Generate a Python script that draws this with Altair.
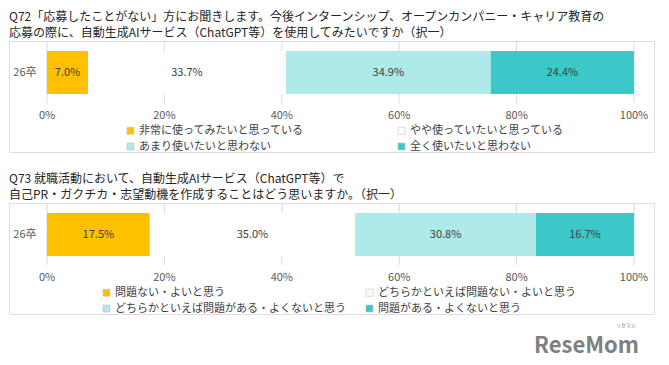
import altair as alt
import pandas as pd

FONT = "Noto Sans CJK JP"

rows = ["26卒"]
q72_cats = ["非常に使ってみたいと思っている", "やや使っていたいと思っている",
            "あまり使いたいと思わない", "全く使いたいと思わない"]
q72_vals = [7.0, 33.7, 34.9, 24.4]
q73_cats = ["問題ない・よいと思う", "どちらかといえば問題ない・よいと思う",
            "どちらかといえば問題がある・よくないと思う", "問題がある・よくないと思う"]
q73_vals = [17.5, 35.0, 30.8, 16.7]
colors = ["#FFC000", "#FFFFFF", "#AFEAEA", "#3CC8C8"]
ticks = [0, 20, 40, 60, 80, 100]
tick_labels = ["0%", "20%", "40%", "60%", "80%", "100%"]
q72_title = ["Q72「応募したことがない」方にお聞きします。今後インターンシップ、オープンカンパニー・キャリア教育の",
             "応募の際に、自動生成AIサービス（ChatGPT等）を使用してみたいですか（択一）"]
q73_title = ["Q73 就職活動において、自動生成AIサービス（ChatGPT等）で",
             "自己PR・ガクチカ・志望動機を作成することはどう思いますか。（択一）"]

W, H = 645, 111


def make_df(cats, vals):
    start, rows_out = 0.0, []
    for i, (c, v) in enumerate(zip(cats, vals)):
        rows_out.append({"row": rows[0], "cat": c, "order": i, "val": v,
                         "x0": start, "x1": start + v, "mid": start + v / 2,
                         "label": f"{v:.1f}%"})
        start += v
    return pd.DataFrame(rows_out)


tick_df = pd.DataFrame({"t": ticks, "lab": tick_labels})
x_scale = alt.Scale(domain=[0, 100], range=[38, 625], nice=False, zero=False)
y_scale = alt.Scale(range=[10, 53], paddingInner=0, paddingOuter=0)


def panel(cats, vals, title, legend_x, col_pad, watermark=False):
    df = make_df(cats, vals)
    grid = alt.Chart(tick_df).mark_rule(color="#D9D9D9", strokeWidth=1).encode(
        x=alt.X("t:Q", scale=x_scale, axis=None),
        y=alt.value(0), y2=alt.value(62))
    axis_lab = alt.Chart(tick_df).mark_text(
        font=FONT, fontSize=11, color="#595959", baseline="middle").encode(
        x=alt.X("t:Q", scale=x_scale, axis=None),
        y=alt.value(75), text="lab:N")
    bars = alt.Chart(df).mark_bar(strokeWidth=0).encode(
        x=alt.X("x0:Q", scale=x_scale, axis=None),
        x2="x1:Q",
        y=alt.Y("row:N", scale=y_scale,
                axis=alt.Axis(title=None, domain=False, ticks=False, offset=-38,
                              labelPadding=11, labelFont=FONT, labelFontSize=11,
                              labelColor="#595959", grid=False)),
        color=alt.Color("cat:N", sort=cats,
                        scale=alt.Scale(domain=cats, range=colors),
                        legend=alt.Legend(
                            orient="none", legendX=legend_x, legendY=84,
                            direction="horizontal",
                            columns=2, title=None, columnPadding=col_pad,
                            rowPadding=4, labelLimit=400, labelFont=FONT,
                            labelFontSize=11, labelColor="#404040",
                            symbolType="square", symbolSize=49,
                            symbolStrokeColor="#BFBFBF", symbolStrokeWidth=0.6,
                            labelOffset=3, padding=0)),
        order="order:Q")
    labels = alt.Chart(df).mark_text(
        font=FONT, fontSize=11, color="#404040", baseline="middle").encode(
        x=alt.X("mid:Q", scale=x_scale, axis=None),
        y=alt.Y("row:N", scale=y_scale),
        text="label:N")
    layers = [grid, bars, labels, axis_lab]
    if watermark:
        wm_df = pd.DataFrame({"w": ["ReseMom"]})
        wm = alt.Chart(wm_df).mark_text(
            font=FONT, fontSize=22, fontWeight="bold", color="#808080",
            align="right", baseline="middle").encode(
            x=alt.value(630), y=alt.value(143), text="w:N")
        wm_small = alt.Chart(pd.DataFrame({"w": ["リセマム"]})).mark_text(
            font=FONT, fontSize=5, color="#808080",
            align="right", baseline="middle").encode(
            x=alt.value(627), y=alt.value(122), text="w:N")
        layers += [wm, wm_small]
    return alt.layer(*layers).properties(
        width=W, height=H,
        title=alt.TitleParams(text=title, anchor="start", fontSize=12, font=FONT,
                              fontWeight="normal", color="#262626",
                              lineHeight=16, offset=1))


p1 = panel(q72_cats, q72_vals, q72_title, 116, 92)
p2 = panel(q73_cats, q73_vals, q73_title, 92, 18, watermark=True)

chart = alt.vconcat(p1, p2, spacing=19).resolve_scale(
    color="independent").resolve_legend(color="independent").properties(
    padding={"top": 2, "left": 0, "right": 0, "bottom": 0}).configure_view(
    stroke="#D9D9D9", strokeWidth=1).configure(background="white")

chart.save("out.html", embed_options={"renderer": "svg", "actions": False})
